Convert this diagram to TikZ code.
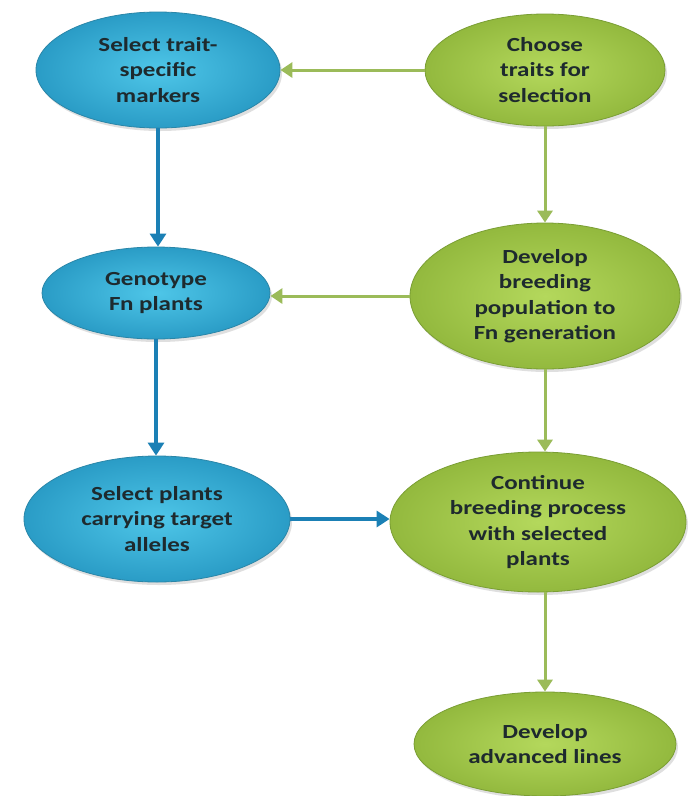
\documentclass[tikz,border=0pt]{standalone}
\usepackage{fontspec}
\setmainfont{Carlito}[FakeStretch=1.25]
\usetikzlibrary{shapes.geometric,arrows.meta,shadows}
\definecolor{bluein}{HTML}{4EC6E8}
\definecolor{blueout}{HTML}{2A9CC6}
\definecolor{blueedge}{HTML}{2A86A8}
\definecolor{greenin}{HTML}{B4D85C}
\definecolor{greenout}{HTML}{93B93E}
\definecolor{greenedge}{HTML}{7A9E34}
\definecolor{bluearrow}{HTML}{1B80B5}
\definecolor{greenarrow}{HTML}{9BBB59}
\definecolor{txt}{HTML}{1E2A2E}
\tikzset{
  blueell/.style={ellipse, inner sep=0pt, draw=blueedge, line width=0.8pt,
    shading=radial, inner color=bluein, outer color=blueout,
    drop shadow={shadow xshift=2pt, shadow yshift=-3pt, opacity=0.25},
    font=\bfseries\fontsize{20}{25.5}\selectfont, text=txt, align=center},
  greenell/.style={ellipse, inner sep=0pt, draw=greenedge, line width=0.8pt,
    shading=radial, inner color=greenin, outer color=greenout,
    drop shadow={shadow xshift=2pt, shadow yshift=-3pt, opacity=0.25},
    font=\bfseries\fontsize{20}{25.5}\selectfont, text=txt, align=center},
  bluearr/.style={draw=bluearrow, line width=3.5pt, -{Triangle[length=13pt,width=16pt]}},
  greenarr/.style={draw=greenarrow, line width=3pt, -{Triangle[length=12pt,width=15pt]}}
}
\begin{document}
\begin{tikzpicture}[x=1pt,y=-1pt]
\useasboundingbox[fill=white] (0,0) rectangle (691,796);
\node[blueell, minimum width=244pt, minimum height=116pt] (n1) at (158,70) {Select trait-\\specific\\markers};
\node[greenell, minimum width=240pt, minimum height=112pt] (n2) at (545,70) {Choose\\traits for\\selection};
\node[blueell, minimum width=228pt, minimum height=92pt] (n3) at (156,293) {Genotype\\Fn plants};
\node[greenell, minimum width=270pt, minimum height=146pt] (n4) at (545,296) {Develop\\breeding\\population to\\Fn generation};
\node[blueell, minimum width=266pt, minimum height=126pt] (n5) at (157,519) {Select plants\\carrying target\\alleles};
\node[greenell, minimum width=296pt, minimum height=140pt] (n6) at (538,522) {Continue\\breeding process\\with selected\\plants};
\node[greenell, minimum width=262pt, minimum height=104pt] (n7) at (545,744) {Develop\\advanced lines};
\draw[greenarr] (n2.west) -- (n2.west -| n1.east);
\draw[greenarr] (n4.west) -- (n4.west -| n3.east);
\draw[bluearr] (n1.south) -- (n1.south |- n3.north);
\draw[bluearr] (n3.south) -- (n3.south |- n5.north);
\draw[greenarr] (n2.south) -- (n4.north);
\draw[greenarr] (n4.south) -- (n4.south |- n6.north);
\draw[greenarr] (n6.south -| n7.north) -- (n7.north);
\draw[bluearr] (n5.east) -- (n5.east -| n6.west);
\end{tikzpicture}
\end{document}
